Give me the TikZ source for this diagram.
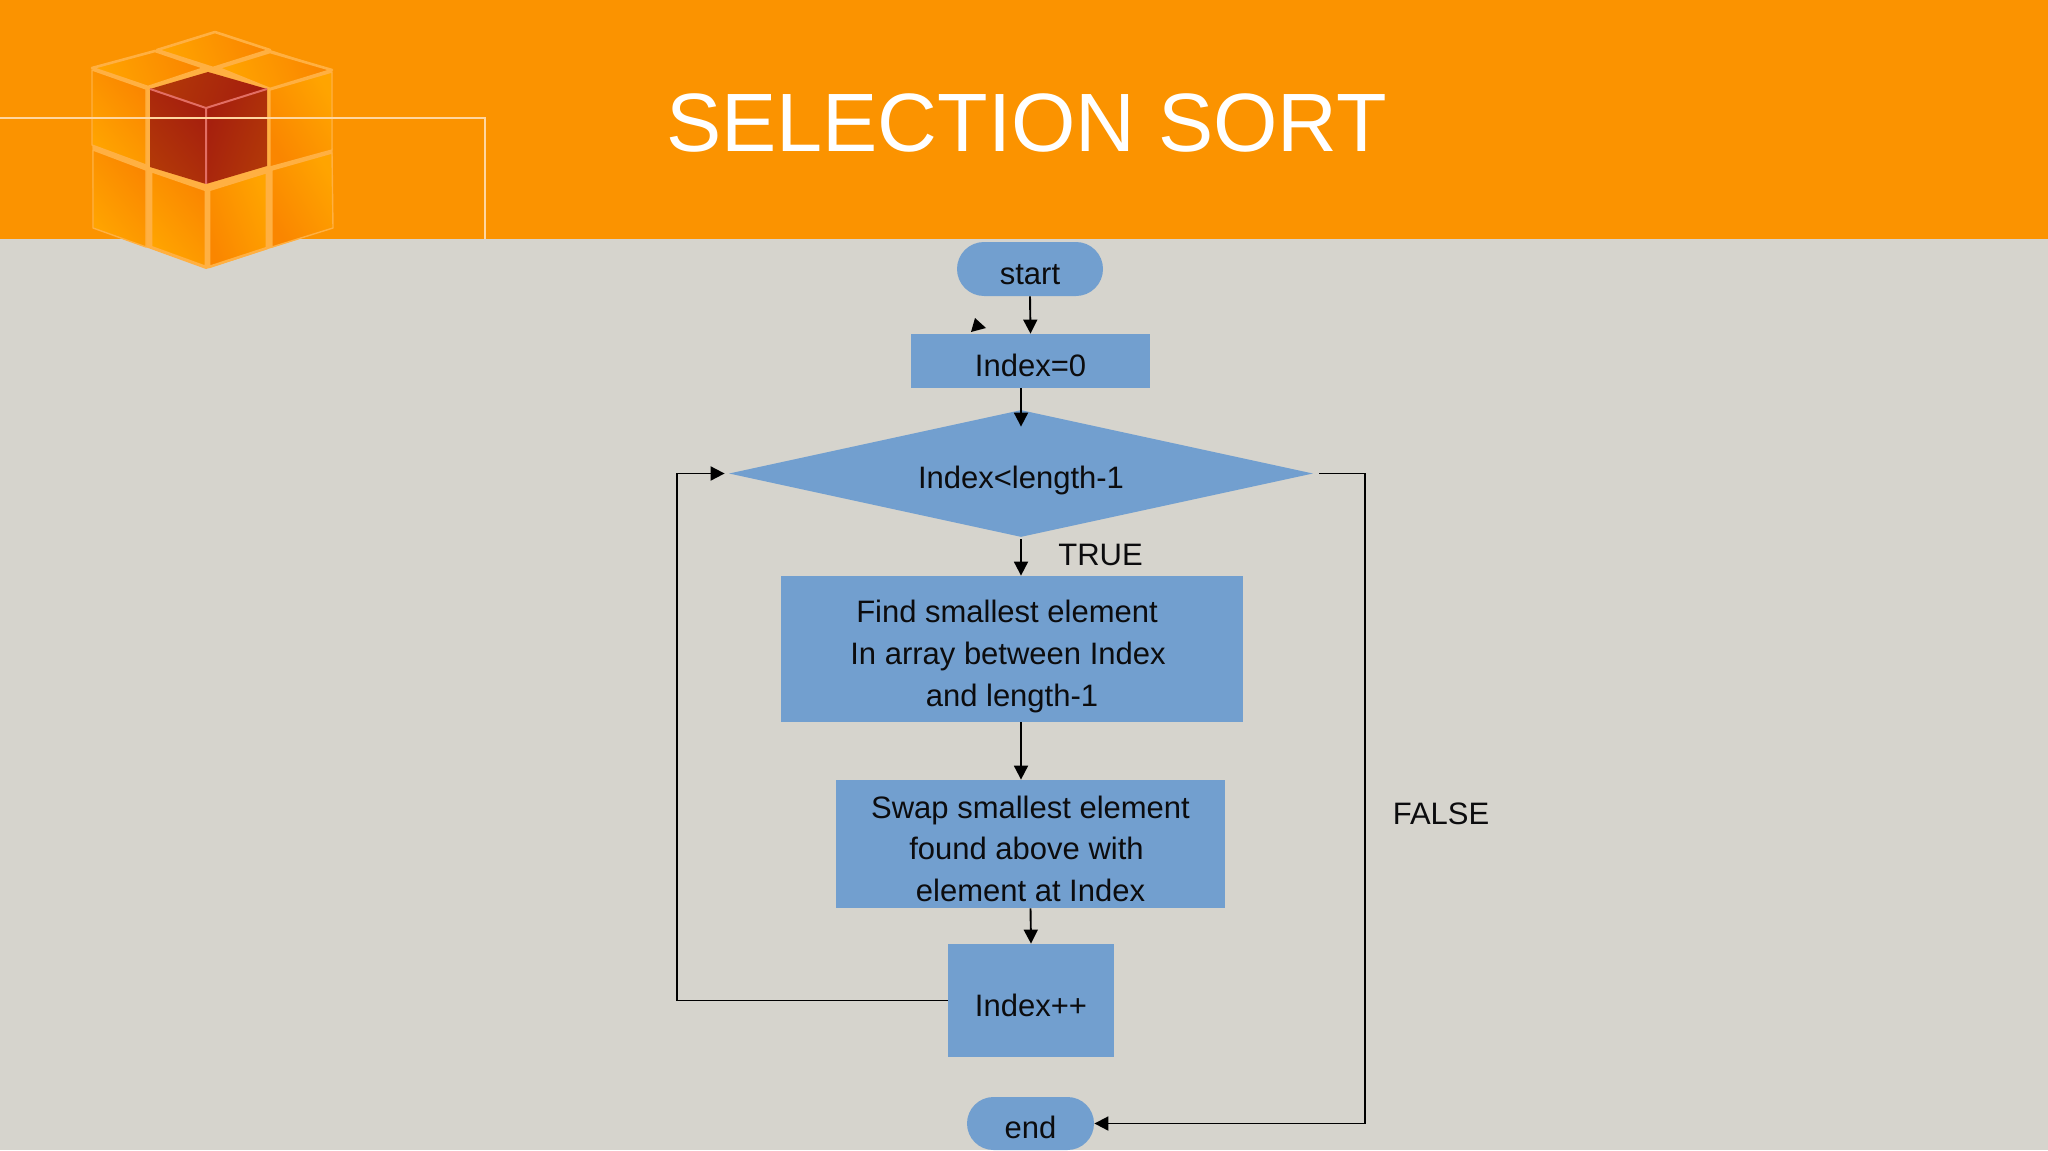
\documentclass[tikz,border=0pt]{standalone}
\usepackage{fontspec}
\setmainfont{Liberation Sans}
\usetikzlibrary{arrows.meta,calc,shapes.geometric,shapes.misc}
\definecolor{hdr}{RGB}{251,147,0}
\definecolor{paper}{RGB}{214,212,205}
\definecolor{boxblue}{RGB}{114,159,207}
\definecolor{ink}{RGB}{12,12,14}
\definecolor{rim}{RGB}{255,176,66}
\definecolor{hairline}{RGB}{255,214,160}
\definecolor{oa}{RGB}{255,164,0}
\definecolor{ob}{RGB}{250,134,0}
\definecolor{ra}{RGB}{178,56,8}
\definecolor{rb}{RGB}{165,30,14}
\definecolor{redrim}{RGB}{226,110,100}
\tikzset{
  bodyfont/.style={text=ink,font=\fontsize{15.5pt}{20.9pt}\selectfont},
  flowbox/.style={rectangle,fill=boxblue,inner sep=0pt,bodyfont,align=center},
  terminal/.style={rounded rectangle,fill=boxblue,inner sep=0pt,bodyfont},
  decision/.style={diamond,fill=boxblue,inner sep=0pt,bodyfont},
  flowlabel/.style={inner sep=0pt,bodyfont},
  conn/.style={draw=black,line width=0.95pt,-{Triangle[length=7pt,width=7pt]}},
  tile/.style={shading=axis,left color=oa,right color=ob,draw=rim,line width=1.3pt,line join=round},
  redtile/.style={shading=axis,left color=ra,right color=rb,draw=none},
}
\begin{document}
\begin{tikzpicture}[x=0.5pt,y=-0.5pt]
\useasboundingbox (0,0) rectangle (2048,1150);
\fill[paper] (0,0) rectangle (2048,1150);
\fill[hdr] (0,0) rectangle (2048,239);
% cube
\fill[rim] (215,32) -- (332,70) -- (333,228) -- (206,269) -- (93,228) -- (92,70) -- cycle;
\shadedraw[tile,shading angle=110] (215,32) -- (270,50) -- (213,68) -- (157,50) -- cycle;
\shadedraw[tile,shading angle=110] (92,68) -- (155,51) -- (205,68) -- (148,87) -- cycle;
\shadedraw[tile,shading angle=110] (218,68) -- (270,52) -- (332,70) -- (270,89) -- cycle;
\shadedraw[tile,shading angle=130,line width=0.7pt] (92,70) -- (146,89) -- (146,165) -- (92,145) -- cycle;
\shadedraw[tile,shading angle=300,line width=0.7pt] (270,90) -- (332,72) -- (332,150) -- (270,167) -- cycle;
\shadedraw[tile,shading angle=130,line width=0.7pt] (93,150) -- (146,170) -- (146,247) -- (93,228) -- cycle;
\shadedraw[tile,shading angle=130] (151,171) -- (206,190) -- (206,267) -- (151,247) -- cycle;
\shadedraw[tile,shading angle=290] (209,190) -- (267,172) -- (267,248) -- (209,267) -- cycle;
\shadedraw[tile,shading angle=300,line width=0.7pt] (272,170) -- (332,153) -- (333,228) -- (272,247) -- cycle;
\shade[redtile,shading angle=70] (208,72) -- (267,89) -- (206,108) -- (150,89) -- cycle;
\shade[redtile,shading angle=130] (150,89) -- (206,108) -- (206,184) -- (150,167) -- cycle;
\shade[redtile,shading angle=250] (206,108) -- (267,89) -- (267,166) -- (206,184) -- cycle;
\draw[redrim,line width=1pt,line join=round] (150,89) -- (206,108) -- (267,89) (206,108) -- (206,184);
\draw[hairline,line width=0.7pt] (0,118) -- (485,118) -- (485,239);
% title
\node[inner sep=0pt,text=white,font=\fontsize{41.4pt}{48pt}\selectfont] (title) at (1026.5,123) {SELECTION SORT};
% flowchart
\node[terminal,minimum width=73pt,minimum height=27pt,text height=15pt,text depth=0pt] (start) at (1030,269) {start};
\node[flowbox,minimum width=119.5pt,minimum height=27pt,text height=15.5pt,text depth=0pt] (idx) at (1030.5,361) {Index=0};
\node[decision,minimum width=292pt,minimum height=63.5pt,aspect=4.6,text height=15pt,text depth=0pt] (dia) at (1021,473.5) {Index<length-1};
\node[flowbox,minimum width=231pt,minimum height=73pt] (find) at (1012,649) {\rule{0pt}{19pt}Find smallest element\hspace*{5pt}\\\mbox{\kern-2pt In array between Index\kern2pt}\\and length-1};
\node[flowbox,minimum width=194.5pt,minimum height=64pt] (swap) at (1030.5,844) {\rule{0pt}{16pt}Swap smallest element\\\mbox{\kern-2pt found above with\kern2pt}\\element at Index};
\node[flowbox,minimum width=83pt,minimum height=56.5pt,text height=16pt,text depth=0pt] (inc) at (1031,1000.5) {Index++};
\node[terminal,minimum width=63.5pt,minimum height=26.5pt,text height=15pt,text depth=0pt] (endn) at (1030.5,1123.5) {end};
\node[flowlabel] (truelbl) at (1100.5,555) {TRUE};
\node[flowlabel] (falselbl) at (1441,813.5) {FALSE};
% connectors
\draw[conn] (start.south) -- (idx.north);
\draw[conn] (dia.north |- idx.south) -- ($(dia.north)+(0,17)$);
\draw[conn] ($(dia.south)+(0,2)$) -- (dia.south |- find.north);
\draw[conn] (dia.south |- find.south) -- (dia.south |- swap.north);
\draw[conn] (swap.south) -- (inc.north);
\draw[conn] (inc.west) -| ($(dia.west)+(-52,0)$) -- ($(dia.west)+(-4,0)$);
\draw[conn] ($(dia.east)+(6,0)$) -- ($(dia.east)+(52,0)$) |- (endn.east);
% stray arrowhead
\fill[black] (975,318) -- (986,328) -- (971,332) -- cycle;
\end{tikzpicture}
\end{document}
